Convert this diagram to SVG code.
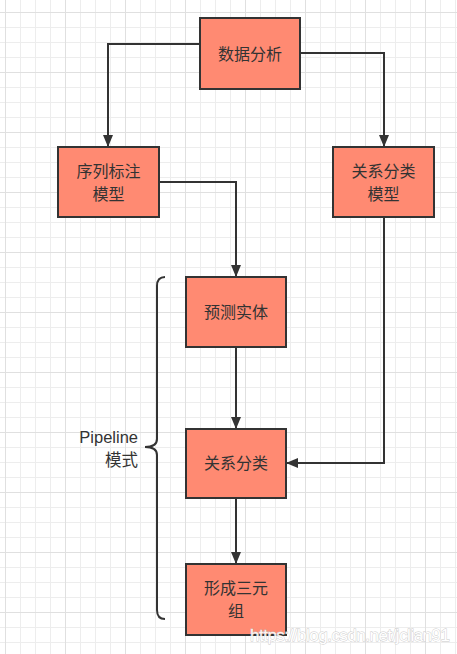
<svg xmlns="http://www.w3.org/2000/svg" width="457" height="654" viewBox="0 0 457 654">
<defs>
<pattern id="grid" patternUnits="userSpaceOnUse" x="5" y="12" width="60" height="60">
<path d="M15.5,0V60M30.5,0V60M45.5,0V60M0,15.5H60M0,30.5H60M0,45.5H60" stroke="#ededed" stroke-width="1" fill="none"/>
<path d="M0.5,0V60M0,0.5H60" stroke="#e0e0e0" stroke-width="1" fill="none"/>
</pattern>
<marker id="arr" viewBox="0 0 12 10" refX="12" refY="5" markerWidth="12" markerHeight="10" markerUnits="userSpaceOnUse" orient="auto">
<path d="M0,0L12,5L0,10Z" fill="#333"/>
</marker>
<style>
.box{fill:#FF8A72;stroke:#333;stroke-width:2}
.lbl{font-family:"Noto Sans CJK SC","Liberation Sans",sans-serif;font-size:16px;fill:#333;text-anchor:middle}
.edge{fill:none;stroke:#333;stroke-width:2}
.side{font-family:"Liberation Sans","Noto Sans CJK SC",sans-serif;font-size:16.5px;fill:#333;text-anchor:end}
</style>
</defs>
<rect width="457" height="654" fill="#fff"/>
<rect width="457" height="654" fill="url(#grid)"/>
<g id="connectors">
<path class="edge" d="M200,44H108V147" marker-end="url(#arr)"/>
<path class="edge" d="M300,53H384V147" marker-end="url(#arr)"/>
<path class="edge" d="M159,182H236V277" marker-end="url(#arr)"/>
<path class="edge" d="M236,347V429" marker-end="url(#arr)"/>
<path class="edge" d="M384,217V463H286" marker-end="url(#arr)"/>
<path class="edge" d="M236,498V564" marker-end="url(#arr)"/>
</g>
<g id="n_analysis"><rect class="box" x="200" y="18" width="100" height="71"/><text class="lbl" x="250" y="60">数据分析</text></g>
<g id="n_seq"><rect class="box" x="58" y="147" width="101" height="70"/><text class="lbl" x="108.5" y="177">序列标注</text><text class="lbl" x="108.5" y="200">模型</text></g>
<g id="n_relmodel"><rect class="box" x="333" y="147" width="101" height="70"/><text class="lbl" x="383.5" y="177">关系分类</text><text class="lbl" x="383.5" y="200">模型</text></g>
<g id="n_predict"><rect class="box" x="186" y="277" width="100" height="70"/><text class="lbl" x="236" y="318">预测实体</text></g>
<g id="n_rel"><rect class="box" x="186" y="429" width="100" height="69"/><text class="lbl" x="236" y="469">关系分类</text></g>
<g id="n_triple"><rect class="box" x="186" y="564" width="100" height="71"/><text class="lbl" x="236" y="594">形成三元</text><text class="lbl" x="236" y="617">组</text></g>
<g id="brace">
<path class="edge" d="M165,277Q157,277 157,286V439Q157,447 145,447Q157,447 157,455V610Q157,619 165,619"/>
<text class="side" x="138" y="443">Pipeline</text>
<text class="side" x="138" y="466">模式</text>
</g>
<text x="250" y="641" textLength="200" font-family="Liberation Sans,sans-serif" font-size="17" fill="#fff" stroke="#c4c4c4" stroke-width="0.8" paint-order="stroke" opacity="0.9">https://blog.csdn.net/jclian91</text>
</svg>
